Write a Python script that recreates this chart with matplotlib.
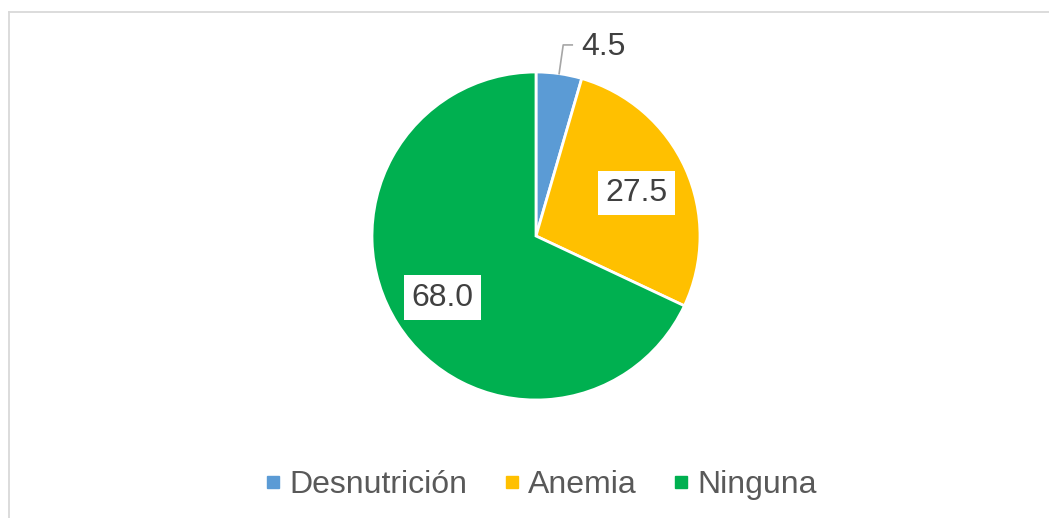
import matplotlib
matplotlib.use('Agg')
import matplotlib.pyplot as plt
from matplotlib.lines import Line2D
import numpy as np

# data
categories = ['Desnutrición', 'Anemia', 'Ninguna']
values = [4.5, 27.5, 68.0]
colors = ['#5B9BD5', '#FFC000', '#00B050']

plt.rcParams['font.family'] = ['Liberation Sans', 'DejaVu Sans']

W, H = 1049, 518
fig = plt.figure(figsize=(W / 100, H / 100), dpi=100)

# pie centre ~ (536, 236) px, radius ~164 px
cx, cy, r = 536, 236, 164
ax = fig.add_axes([(cx - r) / W, (H - cy - r) / H, 2 * r / W, 2 * r / H])

wedges, _ = ax.pie(values, colors=colors, startangle=90, counterclock=False,
                   wedgeprops=dict(edgecolor='white', linewidth=2))
ax.set_xlim(-1, 1)
ax.set_ylim(-1, 1)
ax.set_aspect('equal')

# data labels
for w, v in zip(wedges, values):
    mid = np.deg2rad((w.theta1 + w.theta2) / 2)
    txt = '%.1f' % v
    if v < 10:
        # small slice: label outside with a leader line
        x0, y0 = np.cos(mid), np.sin(mid)
        ax.plot([x0, x0 + 0.025, x0 + 0.08], [y0, 1.165, 1.165],
                color='#A6A6A6', lw=1.2, clip_on=False)
        ax.text(x0 + 0.135, 1.155, txt, ha='left', va='center',
                fontsize=23, color='#404040')
    else:
        d = 0.675
        ax.text(d * np.cos(mid), d * np.sin(mid) - 0.015, txt, ha='center', va='center',
                fontsize=23, color='#404040',
                bbox=dict(boxstyle='square,pad=0.23', fc='white', ec='none'))

# legend
handles = [Line2D([0], [0], marker='s', ls='none', markersize=8.3,
                  markerfacecolor=c, markeredgecolor=c) for c in colors]
fig.legend(handles, categories, loc='center', bbox_to_anchor=(541 / W, 1 - 485 / H),
           ncol=3, frameon=False, fontsize=23, handlelength=0.5,
           handletextpad=0.27, columnspacing=1.12, labelcolor='#595959')

# chart area border (top and left visible)
fig.add_artist(Line2D([9 / W, 1], [1 - 12 / H, 1 - 12 / H], color='#D9D9D9', lw=1.3))
fig.add_artist(Line2D([9 / W, 9 / W], [0, 1 - 12 / H], color='#D9D9D9', lw=1.3))

fig.savefig('out.png', dpi=100, facecolor='white')
